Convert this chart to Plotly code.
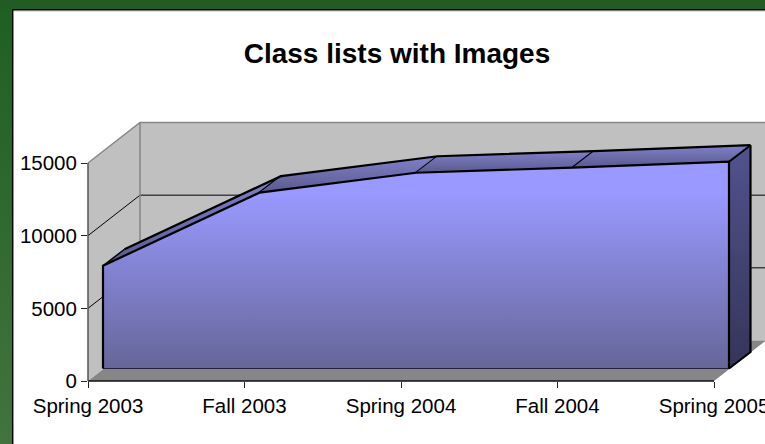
import plotly.graph_objects as go

# ---- data ----
categories = ["Spring 2003", "Fall 2003", "Spring 2004", "Fall 2004", "Spring 2005"]
values = [7070, 12100, 13470, 13820, 14230]
y_ticks = [0, 5000, 10000, 15000]
title_text = "Class lists with Images"

# ---- layout of the oblique 3D box, in pixels ----
W, H = 765, 444
L, R_EDGE, T, B = 88, 714, 163, 381
sx = (R_EDGE - L) / (len(categories) - 1)   # px per category
sy = (B - T) / max(y_ticks)                 # px per unit
cat_idx = list(range(len(categories)))
xmax, ymax = cat_idx[-1], max(y_ticks)


def dx(px):
    return px / sx


def dy(px):
    return px / sy


WALL = (52, 40.5)
FRONT = (15, 12.5)
BACK = (36.5, 29)


def off(x, y, o):
    return x + dx(o[0]), y + dy(o[1])


def poly(pts, fill=None, line=None, width=0, gradient=None):
    xs = [p[0] for p in pts] + [pts[0][0]]
    ys = [p[1] for p in pts] + [pts[0][1]]
    kw = dict(x=xs, y=ys, mode="lines", fill="toself",
              hoverinfo="skip", showlegend=False,
              line=dict(color=line or "rgba(0,0,0,0)", width=width))
    if gradient:
        kw["fillgradient"] = gradient
    else:
        kw["fillcolor"] = fill
    return go.Scatter(**kw)


def seg(pts, color, width):
    return go.Scatter(x=[p[0] for p in pts], y=[p[1] for p in pts], mode="lines",
                      hoverinfo="skip", showlegend=False,
                      line=dict(color=color, width=width))


def vgrad(px_top, px_bottom, c_top, c_bottom, mid=None):
    """vertical gradient between two pixel rows"""
    a = (B - px_bottom) / sy
    b = (B - px_top) / sy
    scale = [[0, c_bottom], [1, c_top]]
    if mid:
        scale = [[0, c_bottom], [mid, c_top], [1, c_top]]
    return dict(type="vertical", start=a, stop=b, colorscale=scale)


def px_pt(px, py):
    return (px - L) / sx, (B - py) / sy


traces = []

# page frame: green strip and band, black edge
traces.append(poly([px_pt(0, 0), px_pt(12, 0), px_pt(12, H), px_pt(0, H)],
                   gradient=vgrad(0, H, "#1f5f22", "#41743f")))
traces.append(poly([px_pt(0, 0), px_pt(W, 0), px_pt(W, 9), px_pt(0, 9)], fill="#215c24"))
traces.append(seg([px_pt(W, 11), px_pt(14, 11)], "#c8c8c8", 1))
traces.append(seg([px_pt(W, 9.7), px_pt(12.7, 9.7), px_pt(12.7, H)], "#000000", 1.5))

# walls and floor
back_bl = off(0, 0, WALL)
back_br = off(xmax, 0, WALL)
back_tr = off(xmax, ymax, WALL)
back_tl = off(0, ymax, WALL)
traces.append(poly([back_bl, back_br, back_tr, back_tl], fill="#c0c0c0"))
traces.append(poly([(0, 0), back_bl, back_tl, (0, ymax)], fill="#c0c0c0"))
traces.append(poly([(0, 0), (xmax, 0), back_br, back_bl], fill="#868686"))

# gridlines across both walls
for v in y_ticks[1:-1]:
    traces.append(seg([(0, v), off(0, v, WALL), off(xmax, v, WALL)], "#000000", 1))

# wall outline
traces.append(seg([(0, ymax), back_tl, back_tr], "#868686", 1.5))
traces.append(seg([back_tl, back_bl], "#868686", 1.5))
traces.append(seg([(0, 0), (0, ymax)], "#555555", 1.5))
traces.append(seg([(0, 0), (xmax, 0)], "#111111", 1.5))

# area: points on the front and back planes
front = [off(i, v, FRONT) for i, v in zip(cat_idx, values)]
rear = [off(i, v, BACK) for i, v in zip(cat_idx, values)]
front_base = [off(i, 0, FRONT) for i in cat_idx]
rear_base = [off(i, 0, BACK) for i in cat_idx]

# right side face
fy_top = B - front[-1][1] * sy
traces.append(poly([front[-1], rear[-1], rear_base[-1], front_base[-1]],
                   gradient=vgrad(fy_top - 17, B - 13, "#52528f", "#353558")))

# top faces, one per segment
for a in range(len(values) - 1):
    ya = B - min(front[a][1], front[a + 1][1]) * sy
    yb = B - max(rear[a][1], rear[a + 1][1]) * sy
    traces.append(poly([front[a], front[a + 1], rear[a + 1], rear[a]],
                       gradient=vgrad(yb, ya, "#8080cc", "#5a5a8c")))
    traces.append(seg([front[a + 1], rear[a + 1]], "#000000", 2))

# front face
traces.append(poly(front + front_base[::-1],
                   gradient=vgrad(fy_top, B - 12.5, "#9999ff", "#666699", mid=0.85)))

# area outlines
traces.append(seg(rear, "#000000", 2.2))
traces.append(seg([front[0], rear[0]], "#000000", 1.5))
traces.append(seg([rear[-1], rear_base[-1], front_base[-1]], "#000000", 2.2))
traces.append(seg(front_base, "#22223a", 1))
traces.append(seg([front_base[0], front[0]] + front[1:] + [front_base[-1]], "#000000", 2.2))

# invisible series on the tick-bearing axes
traces.append(go.Scatter(x=cat_idx, y=values, xaxis="x2", yaxis="y2", mode="lines",
                         hoverinfo="skip", showlegend=False,
                         line=dict(color="rgba(0,0,0,0)", width=0)))

fig = go.Figure(traces)

AXIS_FONT = dict(family="Liberation Sans, Arial, sans-serif", size=20.5, color="#000000")
fig.update_layout(
    width=W, height=H,
    autosize=False,
    paper_bgcolor="#ffffff",
    plot_bgcolor="rgba(0,0,0,0)",
    showlegend=False,
    margin=dict(l=0, r=0, t=0, b=0, pad=0),
    title=dict(text="<b>" + title_text + "</b>", x=397 / W, xanchor="center",
               y=1 - 53 / H, yanchor="middle",
               font=dict(family="Liberation Sans, Arial, sans-serif", size=28, color="#000000")),
    # full-page axes carrying the oblique box
    xaxis=dict(domain=[0, 1], range=[(0 - L) / sx, (W - L) / sx], visible=False,
               fixedrange=True, automargin=False),
    yaxis=dict(domain=[0, 1], range=[(B - H) / sy, B / sy], visible=False,
               fixedrange=True, automargin=False),
    # value and category axes, on the front edge of the box
    xaxis2=dict(domain=[L / W, R_EDGE / W], anchor="y2", range=[0, xmax], tickmode="array",
                tickvals=cat_idx, ticktext=categories,
                ticks="outside", ticklen=6, tickcolor="#222222", tickwidth=1,
                showgrid=False, zeroline=False, showline=False,
                ticklabeloverflow="allow",
                tickfont=AXIS_FONT, tickangle=0, fixedrange=True, automargin=False),
    yaxis2=dict(domain=[(H - B) / H, (H - T) / H], anchor="x2", range=[0, ymax], tickmode="array",
                tickvals=y_ticks, ticktext=[str(v) for v in y_ticks],
                ticks="outside", ticklen=6, tickcolor="#222222", tickwidth=1,
                showgrid=False, zeroline=False, showline=False,
                tickfont=AXIS_FONT, fixedrange=True, automargin=False),
)

fig.write_html("out.html", config={"displayModeBar": False},
               post_script="document.body.style.margin='0';document.body.style.overflow='hidden';")
